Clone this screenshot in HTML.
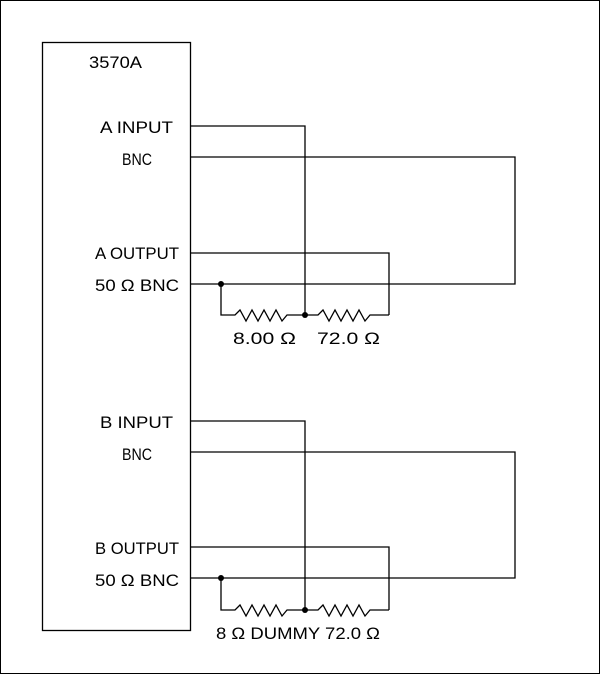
<!DOCTYPE html>
<html><head><style>html,body{margin:0;padding:0;background:#fff}svg{display:block}</style></head>
<body>
<svg width="600" height="674" viewBox="0 0 600 674" xmlns="http://www.w3.org/2000/svg">
<rect x="0.5" y="0.5" width="599" height="673" fill="#fff" stroke="#000"/>
<g fill="none" stroke="#000" stroke-width="1.3">
<rect x="42.5" y="42.5" width="148" height="588"/>
<polyline points="190,126 305,126 305,315"/>
<polyline points="190,157 515,157 515,284 190,284"/>
<polyline points="190,253 389,253 389,315"/>
<polyline points="221,284 221,315 235,315 240,310 246,321 252,310 258,321 264,310 270,321 276,310 282,321 287,315 305,315 318,315 323,310 329,321 335,310 341,321 347,310 353,321 359,310 365,321 370,315 389,315"/>
<polyline points="190,421 305,421 305,610"/>
<polyline points="190,452 515,452 515,578 190,578"/>
<polyline points="190,547 389,547 389,610"/>
<polyline points="221,578 221,610 235,610 240,605 246,616 252,605 258,616 264,605 270,616 276,605 282,616 287,610 305,610 318,610 323,605 329,616 335,605 341,616 347,605 353,616 359,605 365,616 370,610 389,610"/>
</g>
<g fill="#000">
<circle cx="221" cy="284" r="3"/><circle cx="305" cy="315" r="3"/>
<circle cx="221" cy="578" r="3"/><circle cx="305" cy="610" r="3"/>
</g>
<g font-family="Liberation Sans, sans-serif" font-size="17" fill="#000">
<text x="89" y="68" textLength="53" lengthAdjust="spacingAndGlyphs">3570A</text>
<text x="100" y="133" textLength="73" lengthAdjust="spacingAndGlyphs">A INPUT</text>
<text x="122" y="165" textLength="30" lengthAdjust="spacingAndGlyphs">BNC</text>
<text x="95" y="259" textLength="84" lengthAdjust="spacingAndGlyphs">A OUTPUT</text>
<text x="95" y="291" textLength="84" lengthAdjust="spacingAndGlyphs">50 Ω BNC</text>
<text x="233" y="344" textLength="63" lengthAdjust="spacingAndGlyphs">8.00 Ω</text>
<text x="317" y="344" textLength="63" lengthAdjust="spacingAndGlyphs">72.0 Ω</text>
<text x="100" y="428" textLength="73" lengthAdjust="spacingAndGlyphs">B INPUT</text>
<text x="122" y="460" textLength="30" lengthAdjust="spacingAndGlyphs">BNC</text>
<text x="95" y="554" textLength="84" lengthAdjust="spacingAndGlyphs">B OUTPUT</text>
<text x="95" y="586" textLength="84" lengthAdjust="spacingAndGlyphs">50 Ω BNC</text>
<text x="216" y="639" textLength="164" lengthAdjust="spacingAndGlyphs">8 Ω DUMMY 72.0 Ω</text>
</g>
</svg>
</body></html>
